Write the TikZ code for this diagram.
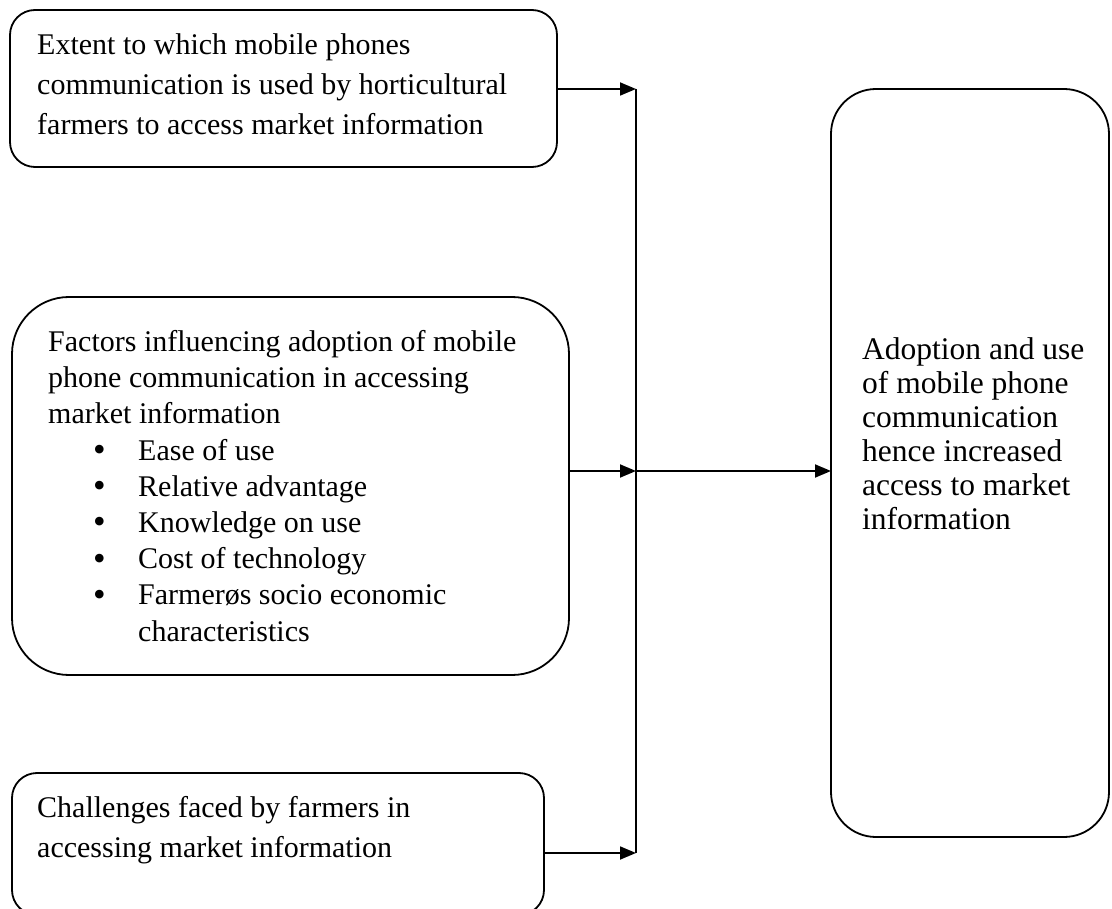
\documentclass[tikz,border=0pt]{standalone}
\usepackage{fontspec}
\setmainfont{Liberation Serif}
\usetikzlibrary{arrows.meta,calc}
\newcommand{\bitem}{\hspace*{45pt}\makebox[45pt][l]{\raisebox{-1.5pt}{\fontsize{36}{36}\selectfont •}}}
\begin{document}
\begin{tikzpicture}[x=1pt,y=-1pt,
  box/.style={draw,line width=1.8pt,inner sep=0pt,outer sep=0pt},
  txt/.style={align=left,inner sep=0pt,anchor=base west},
  wire/.style={line width=1.8pt},
  conn/.style={line width=1.8pt,-{Triangle[length=16pt,width=13pt]}}]
\useasboundingbox (0,0) rectangle (1112,909);
% boxes
\node[box,rounded corners=25pt,minimum width=547pt,minimum height=157pt] (b1) at (283.5,88.5) {};
\node[box,rounded corners=57pt,minimum width=557pt,minimum height=378pt] (b2) at (290.5,486) {};
\node[box,rounded corners=25pt,minimum width=532pt,minimum height=142pt] (b3) at (278,844) {};
\node[box,rounded corners=45pt,minimum width=278pt,minimum height=748pt] (rb) at (970,463) {};
% texts (anchored at the baseline of the last line)
\node[txt,font=\fontsize{30}{40}\selectfont] (t1) at (37,135)
  {Extent to which mobile phones\\communication is used by horticultural\\farmers to access market information};
\node[txt,font=\fontsize{30}{36.2}\selectfont] (t2) at (48,641)
  {Factors influencing adoption of mobile\\phone communication in accessing\\market information\\
   \bitem Ease of use\\
   \bitem Relative advantage\\
   \bitem Knowledge on use\\
   \bitem Cost of technology\\
   \bitem Farmerøs socio economic\\
   \hspace*{90pt}characteristics};
\node[txt,font=\fontsize{30}{40}\selectfont] (t3) at (37,857)
  {Challenges faced by farmers in\\accessing market information};
\node[txt,font=\fontsize{31.5}{34}\selectfont] (t4) at (862,529)
  {Adoption and use\\of mobile phone\\communication\\hence increased\\access to market\\information};
% connectors
\coordinate (top) at (636,89);
\coordinate (mid) at (636,471);
\coordinate (bot) at (636,853);
\draw[wire] (top) -- (bot);
\draw[conn] (b1.east |- top) -- (top);
\draw[conn] (b2.east |- mid) -- (mid);
\draw[conn] (b3.east |- bot) -- (bot);
\draw[conn] (mid) -- (rb.west |- mid);
\end{tikzpicture}
\end{document}
